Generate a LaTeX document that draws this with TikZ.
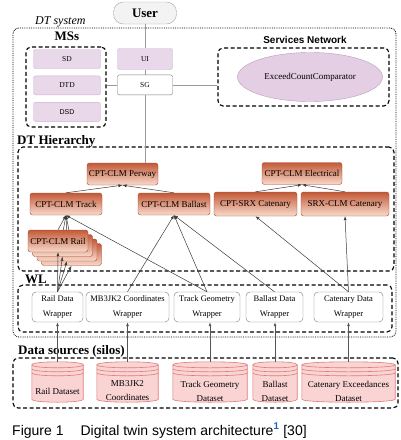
\documentclass[tikz,border=0pt]{standalone}
\usepackage{fontspec}
\setmainfont{Liberation Serif}
\setsansfont{Liberation Sans}
\usepackage{xcolor}
\definecolor{cLine}{HTML}{3A3A3A}
\definecolor{cFeed}{HTML}{555555}
\definecolor{cGrayLine}{HTML}{9A9A9A}
\definecolor{cMS}{HTML}{E9D8E9}
\definecolor{cMSDraw}{HTML}{CDB2CD}
\definecolor{cSvc}{HTML}{E4CEE4}
\definecolor{cSvcDraw}{HTML}{B99BB9}
\definecolor{cUser}{HTML}{F3F3F3}
\definecolor{cUserDraw}{HTML}{A6A6A6}
\definecolor{cDTTop}{HTML}{C25A38}
\definecolor{cDTBot}{HTML}{F8DACC}
\definecolor{cDTDraw}{HTML}{A8452A}
\definecolor{cWrap}{HTML}{7A7A7A}
\definecolor{cSilo}{HTML}{FAD3D3}
\definecolor{cSiloDraw}{HTML}{E07A7A}
\definecolor{cRef}{HTML}{1F5FBF}
\usepackage{tikz}
\usetikzlibrary{positioning,arrows.meta,fit,calc,shapes.geometric,backgrounds}
\tikzset{
  node-user/.style={draw=cUserDraw,fill=cUser,rounded corners=10pt,
    minimum width=63pt,minimum height=22pt,font=\bfseries\fontsize{13}{14}\selectfont},
  node-ms/.style={draw=cMSDraw,fill=cMS,rounded corners=2pt,minimum width=67pt,
    minimum height=19pt,inner sep=1pt,font=\fontsize{7.5}{9}\selectfont},
  node-gate/.style={draw=cWrap,fill=white,rounded corners=2pt,minimum width=55pt,
    minimum height=20pt,inner sep=1pt,font=\fontsize{7.5}{9}\selectfont},
  node-service/.style={ellipse,draw=cSvcDraw,fill=cSvc,minimum width=145pt,
    minimum height=49pt,inner sep=0pt,font=\fontsize{9}{10}\selectfont},
  node-dt/.style={draw=cDTDraw,top color=cDTTop,bottom color=cDTBot,rounded corners=2.5pt,
    minimum height=22pt,inner sep=1pt,font=\fontsize{9}{10}\selectfont},
  node-wrap/.style={draw=cWrap,fill=white,rounded corners=4pt,minimum height=30pt,
    inner sep=1pt,align=center,font=\fontsize{8.5}{15}\selectfont},
  silo/.style={draw=none,minimum height=40pt,inner sep=0pt},
  silo-text/.style={yshift=-9pt,align=center,inner sep=0pt,font=\fontsize{9}{14}\selectfont},
  silo-body/.style={draw=cSiloDraw,fill=cSilo,line width=0.6pt},
  silo-ring/.style={draw=cSiloDraw,line width=0.6pt},
  group-box/.style={draw,dash pattern=on 4pt off 2.5pt,line width=1.1pt,
    rounded corners=5pt,inner sep=0pt},
  system-box/.style={draw,densely dotted,line width=0.8pt,rounded corners=6pt,inner sep=0pt},
  group-title/.style={font=\bfseries\fontsize{13}{14}\selectfont,inner sep=0pt},
  link/.style={draw=cGrayLine,line width=0.8pt},
  arrow-dt/.style={-{Latex[length=4pt,width=3pt]},draw=cLine,line width=0.5pt},
  arrow-feed/.style={-{Latex[length=4pt,width=3pt]},draw=cFeed,line width=0.7pt},
}

\begin{document}
\begin{tikzpicture}[x=1pt,y=-1pt,font=\fontsize{9}{11}\selectfont]
  \useasboundingbox (0,0) rectangle (401,440);

  % user, gateway and micro services
  \node[node-user] (user) at (145,13) {User};
  \node[node-ms,minimum width=55pt,minimum height=21pt] (ui) at (145,59) {UI};
  \node[node-gate,below=5pt of ui] (sg) {SG};
  \node[node-ms] (sd) at (67,59) {SD};
  \node[node-ms,below=7pt of sd] (dtd) {DTD};
  \node[node-ms,below=7pt of dtd,font=\sffamily\fontsize{7}{8}\selectfont] (dsd) {DSD};
  \node[group-box,fit={(26,47) (106,127)}] (msBox) {};
  \node[group-title,anchor=base] at (67,40) {MSs};
  \node[group-box,fit={(218,48) (389,106)}] (svcBox) {};
  \node[group-title,anchor=base,font=\sffamily\bfseries\fontsize{10}{11}\selectfont] at (305,43) {Services Network};
  \node[node-service] (cmp) at (310,77) {ExceedCountComparator};
  \node[system-box,fit={(13,28) (396,337)}] (dtBox) {};
  \node[anchor=base west,inner sep=0pt,font=\itshape\fontsize{12}{13}\selectfont] at (35,24) {DT system};

  % DT hierarchy
  \node[group-box,fit={(18,147) (394,271)}] (dtHier) {};
  \node[group-title,anchor=base west] at (17,144) {DT Hierarchy};
  \node[node-dt,minimum width=71pt] (perway) at (122.5,174) {CPT-CLM Perway};
  \node[node-dt,minimum width=80pt] (elec) at (302,173.5) {CPT-CLM Electrical};
  \node[node-dt,minimum width=72pt] (track) at (66,204) {CPT-CLM Track};
  \node[node-dt,minimum width=72pt] (ballast) at (174,204) {CPT-CLM Ballast};
  \node[node-dt,minimum width=83pt,minimum height=24pt] (cptSrx) at (255.5,204) {CPT-SRX Catenary};
  \node[node-dt,minimum width=88pt,minimum height=24pt] (srxClm) at (345,204) {SRX-CLM Catenary};
  \foreach \i in {3,2,1}
    \node[node-dt,minimum width=60pt] (rail\i) at ({58+4.5*\i},{241+4.5*\i}) {};
  \node[node-dt,minimum width=60pt] (rail0) at (58,241) {CPT-CLM Rail};

  % wrapper layer
  \node[group-box,fit={(18,285) (392,332)}] (wlBox) {};
  \node[group-title,anchor=base west] at (25,283) {WL};
  \node[node-wrap,minimum width=51pt] (railW) at (57.5,307) {Rail Data\\Wrapper};
  \node[node-wrap,minimum width=83pt] (mbW) at (127.5,307) {MB3JK2 Coordinates\\Wrapper};
  \node[node-wrap,minimum width=66pt] (trackW) at (207,307) {Track Geometry\\Wrapper};
  \node[node-wrap,minimum width=57pt] (ballastW) at (274.5,307) {Ballast Data\\Wrapper};
  \node[node-wrap,minimum width=69pt] (catW) at (348.5,307) {Catenary Data\\Wrapper};

  % data sources
  \node[group-box,fit={(13,358) (398,408)}] (dsBox) {};
  \node[group-title,anchor=base west] at (18,354) {Data sources (silos)};
  \node[silo,minimum width=51pt,label={[silo-text]center:Rail Dataset}] (dsRail) at (57.5,382) {};
  \node[silo,minimum width=61pt,label={[silo-text]center:MB3JK2\\Coordinates}] (dsMB) at (127.5,382) {};
  \node[silo,minimum width=74pt,label={[silo-text]center:Track Geometry\\Dataset}] (dsTrack) at (210,382) {};
  \node[silo,minimum width=44pt,label={[silo-text]center:Ballast\\Dataset}] (dsBallast) at (275,382) {};
  \node[silo,minimum width=93pt,label={[silo-text]center:Catenary Exceedances\\Dataset}] (dsCat) at (348.5,382) {};

  \begin{scope}[on background layer]
    \foreach \s in {dsRail,dsMB,dsTrack,dsBallast,dsCat} {
      \path[silo-body] let \p1=(\s.north west), \p2=(\s.south east) in
        (\x1,\y1-3pt) -- (\x1,\y2+3pt)
        .. controls (\x1,\y2-1pt) and (\x2,\y2-1pt) .. (\x2,\y2+3pt)
        -- (\x2,\y1-3pt)
        .. controls (\x2,\y1+1pt) and (\x1,\y1+1pt) .. cycle;
      \draw[silo-ring] let \p1=(\s.north west), \p2=(\s.south east) in
        (\x1,\y1-3pt) .. controls (\x1,\y1-7pt) and (\x2,\y1-7pt) .. (\x2,\y1-3pt)
        (\x1,\y1-7pt) .. controls (\x1,\y1-11pt) and (\x2,\y1-11pt) .. (\x2,\y1-7pt)
        (\x1,\y1-11pt) .. controls (\x1,\y1-15pt) and (\x2,\y1-15pt) .. (\x2,\y1-11pt);
    }
    \foreach \i in {0,...,3}
      \draw[arrow-dt] (rail\i.north) -- (track.south);
  \end{scope}

  % connectors
  \draw[link] (user) -- (ui);
  \draw[link] (ui) -- (sg);
  \draw[link] (sg.west) -- (sg.west -| msBox.east);
  \draw[link] (sg.east) -- (sg.east -| svcBox.west);
  \draw[link] (sg.south) -- (sg.south |- perway.north);
  \draw[arrow-dt] (track.north) -- (perway.south);
  \draw[arrow-dt] (ballast.north) -- (perway.south);
  \draw[arrow-dt] (cptSrx.north) -- (elec.south);
  \draw[arrow-dt] (srxClm.north) -- (elec.south);
  \foreach \i in {0,...,3}
    \draw[arrow-dt] (railW.north) -- (rail\i.south);
  \draw[arrow-dt] (trackW.north) -- (track.south);
  \foreach \w in {mbW,trackW,ballastW}
    \draw[arrow-dt] (\w.north) -- (ballast.south);
  \draw[arrow-dt] (catW.north) -- (cptSrx.south);
  \draw[arrow-dt] (catW.north) -- (srxClm.south);
  \foreach \d/\w in {dsRail/railW,dsMB/mbW,dsTrack/trackW,dsBallast/ballastW,dsCat/catW}
    \draw[arrow-feed] (\d.north) -- (\d.north |- \w.south);

  % caption
  \node[anchor=base west,inner sep=0pt,font=\sffamily\fontsize{14}{16}\selectfont] (caption) at (12,435)
    {Figure 1\hspace{17pt}Digital twin system architecture\textsuperscript{\textcolor{cRef}{\bfseries 1}} [30]};
\end{tikzpicture}
\end{document}
